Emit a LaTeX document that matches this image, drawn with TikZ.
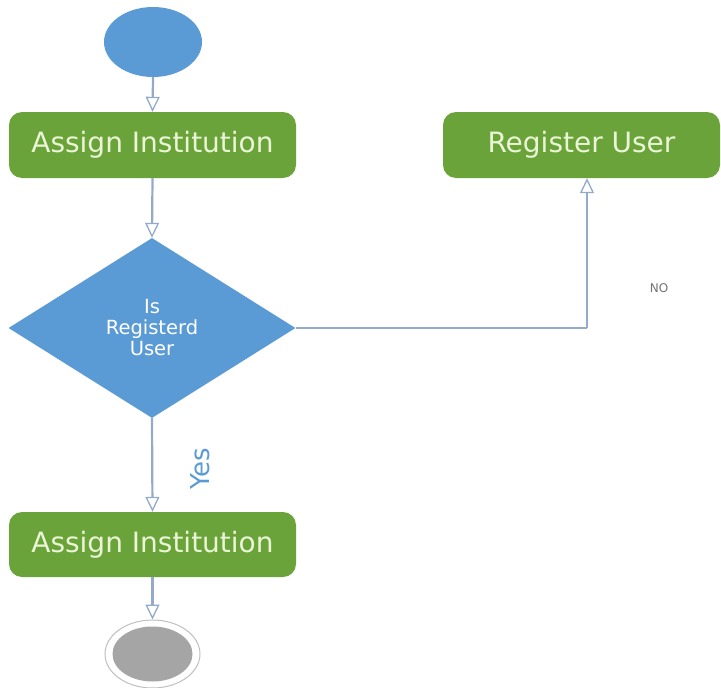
\documentclass[tikz,border=0pt]{standalone}
\usepackage{fontspec}
\setmainfont{DejaVu Sans}
\usetikzlibrary{shapes.geometric,arrows.meta}
\definecolor{actgreen}{HTML}{6BA33B}
\definecolor{nodeblue}{HTML}{5B9BD5}
\definecolor{flowline}{HTML}{93AACB}
\definecolor{boxtext}{HTML}{EAF5D6}
\definecolor{endgray}{HTML}{A5A5A5}
\tikzset{
  action/.style={rectangle, rounded corners=13pt, fill=actgreen, text=boxtext,
    minimum width=287pt, minimum height=66pt, inner sep=0pt,
    font=\fontsize{28}{32}\selectfont},
  flow/.style={draw=flowline, line width=2.2pt,
    -{Triangle[length=15pt,width=14pt,fill=white,line width=1.3pt]}},
  plainflow/.style={draw=flowline, line width=2.2pt}
}
\begin{document}
\begin{tikzpicture}[x=1pt,y=-1pt]
\useasboundingbox (0,0) rectangle (721,688);

% initial node
\node (start) [ellipse, fill=nodeblue, minimum width=98pt, minimum height=70pt, inner sep=0pt] at (153,42) {};

% actions
\node (assign1) [action] at (152.5,145) {Assign Institution};
\node (register) [action, minimum width=277pt] at (581.5,145) {Register User};
\node (assign2) [action, minimum height=65pt] at (152.5,544.5) {Assign Institution};

% decision
\node (dec) [diamond, fill=nodeblue, text=white, minimum width=287pt, minimum height=180pt,
  aspect=1.594, inner sep=0pt, align=center,
  font=\fontsize{19.5}{21}\selectfont] at (152,328) {Is\\Registerd\\User};

% final node
\node (final) [ellipse, draw=endgray!70, line width=1pt, fill=white,
  minimum width=95pt, minimum height=68pt, inner sep=0pt] at (152.5,654) {};
\node (finalcore) [ellipse, fill=endgray, minimum width=80pt, minimum height=55pt, inner sep=0pt] at (final.center) {};

% connectors
\draw[flow] (start.south) -- (assign1.north);
\draw[flow] (assign1.south) -- (dec.north);
\coordinate (bend) at (587,328);
\draw[plainflow] (dec.east) -- (bend);
\draw[flow] (bend) -- (bend |- register.south);
\draw[flow] (dec.south) -- (assign2.north);
\draw[flow] (assign2.south) -- (final.north);

% guard labels
\node (yes) [rotate=90, text=nodeblue, font=\fontsize{26}{28}\selectfont, inner sep=0pt] at (200,469) {Yes};
\node (no) [text=black!55, font=\fontsize{12}{13}\selectfont, inner sep=0pt] at (659,288) {NO};
\end{tikzpicture}
\end{document}
